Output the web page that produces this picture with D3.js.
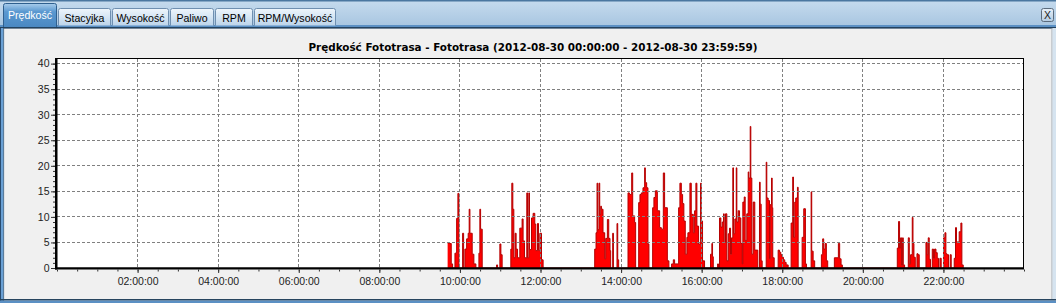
<!DOCTYPE html>
<html><head><meta charset="utf-8">
<script src="https://cdn.jsdelivr.net/npm/d3@7"></script>
<style>html,body{margin:0;padding:0;background:#f0f0f0;overflow:hidden} svg{display:block}</style>
</head><body><svg id="c" width="1056" height="303"></svg>
<script>
// ---------- data ----------
const tabs = ["Prędkość","Stacyjka","Wysokość","Paliwo","RPM","RPM/Wysokość"];
const chartTitle = "Prędkość Fototrasa - Fototrasa (2012-08-30 00:00:00 - 2012-08-30 23:59:59)";
const yTicks = [0,5,10,15,20,25,30,35,40];
const xTickMinutes = [120,240,360,480,600,720,840,960,1080,1200,1320];
const xTickLabels = ["02:00:00","04:00:00","06:00:00","08:00:00","10:00:00","12:00:00","14:00:00","16:00:00","18:00:00","20:00:00","22:00:00"];
// [minutes after midnight, speed] — each value holds until the next sample
const speedSamples = [
[581.7,4.9],[585.1,4.8],[587.1,0.8],[589.1,0],[592.6,2.9],[595.1,9.7],[597.0,14.6],[598.5,0],[604.0,6.8],[605.5,0],[607.4,3.7],[610.0,5.7],[612.3,6.8],[613.8,11.5],[614.9,6.8],[618.3,2.7],[620.8,0.8],[623.8,0],[628.3,2.9],[629.7,11.5],[630.8,7.6],[633.2,0],[654.6,0.6],[656.1,0],[659.5,4.7],[661.0,2.6],[662.9,0],
[675.8,3.7],[677.3,16.6],[678.8,11.5],[680.3,2.0],[682.2,6.8],[683.7,3.7],[685.8,2.0],[689.2,7.8],[692.6,9.6],[694.1,5.3],[696.2,2.0],[699.6,14.7],[700.7,2.0],[702.6,14.7],[703.6,3.6],[706.6,9.8],[709.0,10.7],[711.5,8.6],[713.0,3.4],[715.5,8.7],[717.0,3.4],[719.0,6.8],[721.5,1.6],[723.9,0],
[800.7,3.7],[802.7,6.9],[804.2,16.6],[805.2,7.5],[807.1,16.6],[808.2,10.5],[809.7,12.1],[810.7,11.5],[813.1,6.9],[815.6,1.8],[817.1,5.8],[819.6,9.5],[821.6,5.8],[823.5,3.4],[824.5,0],[827.5,6.8],[828.6,0],[833.9,8.7],[835.0,1.6],[836.4,0],
[850.3,14.7],[852.4,14.4],[855.8,18.6],[857.3,10.2],[860.2,8.9],[861.7,0],[866.2,12.8],[868.1,14.4],[870.2,14.7],[872.6,15.7],[875.1,19.6],[876.1,16.7],[878.1,15.7],[880.0,4.7],[881.5,0],
[887.0,11.8],[888.9,13.8],[891.0,15.1],[894.0,11.2],[897.4,7.9],[899.9,7.6],[902.9,18.6],[904.8,11.8],[908.9,1.4],[911.2,0],[915.2,0.8],[917.8,1.6],[919.7,0.8],[925.7,11.8],[927.6,16.6],[929.7,14.4],[931.6,12.6],[933.5,9.2],[935.6,2.7],[938.0,6.0],[939.5,6.9],[942.5,16.6],[944.5,10.5],[947.5,6.9],[949.5,11.2],[951.4,16.6],[952.9,8.2],[955.4,4.7],[958.4,16.6],[959.4,9.2],[961.3,1.4],[964.3,0],
[973.2,2.7],[975.2,4.8],[976.2,2.2],[977.3,0],[983.7,0.8],[985.1,0],[986.6,9.8],[988.6,8.0],[990.6,9.0],[992.6,10.6],[993.6,5.0],[995.5,10.6],[997.5,1.4],[999.6,6.7],[1001.5,7.8],[1003.0,2.7],[1004.5,5.9],[1006.4,19.6],[1007.4,6.7],[1009.4,9.6],[1011.5,19.6],[1012.4,9.0],[1014.4,11.2],[1016.4,9.8],[1018.3,4.8],[1020.4,0.8],[1021.3,12.9],[1023.4,13.9],[1024.8,5.4],[1027.2,10.6],[1029.3,18.8],[1030.2,17.6],[1032.3,27.7],[1033.2,17.6],[1034.7,2.7],[1036.7,12.9],[1039.1,3.5],[1043.6,0],[1046.1,16.8],[1047.1,12.5],[1048.6,1.4],[1050.1,0],[1056.1,20.7],[1057.0,13.7],[1059.0,13.2],[1061.0,1.8],[1062.0,12.4],[1064.0,17.6],[1065.0,11.8],[1065.9,2.0],[1068.0,0],[1073.9,3.5],[1075.8,3.1],[1077.8,2.6],[1079.9,2.1],[1081.8,1.6],[1083.7,1.1],[1085.8,0.6],[1088.8,0],[1093.2,8.8],[1095.6,17.8],[1096.7,6.0],[1098.6,12.9],[1100.1,13.7],[1102.6,15.8],[1103.7,0],[1109.6,6.0],[1112.0,11.6],[1114.5,0.8],[1116.0,0],[1123.0,14.9],[1123.9,3.3],[1126.0,1.4],[1128.3,0],[1138.3,2.6],[1140.2,5.7],[1141.7,3.7],[1143.8,4.8],[1145.7,1.4],[1147.7,0],[1157.6,2.0],[1163.6,4.8],[1165.5,1.8],[1167.6,0.6],[1169.5,0],
[1251.3,3.9],[1253.2,9.1],[1254.7,3.9],[1256.2,5.9],[1257.7,0.5],[1259.2,5.9],[1260.2,0.6],[1262.2,0],[1267.7,5.9],[1269.2,0.8],[1271.1,2.6],[1273.6,9.9],[1274.7,4.8],[1276.1,2.1],[1278.1,0],[1280.6,2.8],[1282.1,2.6],[1284.0,0],[1294.0,5.0],[1295.9,2.6],[1297.4,5.9],[1298.9,1.7],[1300.8,0],[1303.4,3.7],[1305.3,1.9],[1306.8,3.7],[1308.9,3.0],[1310.8,1.9],[1312.7,0],[1314.8,1.9],[1316.7,0],[1320.2,5.9],[1322.2,6.9],[1323.7,2.8],[1325.2,2.6],[1327.6,0],[1330.1,2.6],[1331.6,0],[1336.1,1.9],[1338.0,7.9],[1339.5,5.1],[1343.5,7.1],[1346.0,8.8],[1347.5,0.6],[1349.5,0]
];

// ---------- layout ----------
const W = 1056, H = 303;
const tabWidths = [54, 53, 57, 44, 38, 82];
const plot = {left: 57, right: 1023.5, top: 58.5, bottom: 268};
const svg = d3.select("#c");
const defs = svg.append("defs");
function grad(id, stops){
  const g = defs.append("linearGradient").attr("id", id).attr("x1",0).attr("y1",0).attr("x2",0).attr("y2",1);
  stops.forEach(s => g.append("stop").attr("offset", s[0]).attr("stop-color", s[1]));
}
grad("strip", [[0,"#c6dbee"],[1,"#a8c6e1"]]);
grad("tabOff", [[0,"#eef5fb"],[0.5,"#d6e6f4"],[1,"#bcd4ea"]]);
grad("tabOn", [[0,"#a9cdec"],[0.35,"#5a98d0"],[1,"#4a88c2"]]);
grad("btn", [[0,"#e8f0f8"],[1,"#b4cce2"]]);

// background
svg.append("rect").attr("width", W).attr("height", H).attr("fill", "#f0f0f0");
// tab strip
svg.append("rect").attr("x",0).attr("y",0).attr("width",W).attr("height",26).attr("fill","url(#strip)");
svg.append("rect").attr("x",0).attr("y",0).attr("width",W).attr("height",1.5).attr("fill","#4b77a0");
svg.append("rect").attr("x",0).attr("y",25).attr("width",W).attr("height",2).attr("fill","#5b90c4");
svg.append("rect").attr("x",0).attr("y",27).attr("width",W).attr("height",1.6).attr("fill","#23425f");

// tabs
const tabFont = "Liberation Sans, Arial, sans-serif";
let tx = 3;
tabs.forEach((name, i) => {
  const w = tabWidths[i];
  const on = i === 0;
  const top = on ? 3.5 : 8.5;
  const bottom = on ? 27 : 25.5;
  svg.append("path")
    .attr("d", `M${tx+0.5},${bottom} L${tx+0.5},${top+2} Q${tx+0.5},${top} ${tx+2.5},${top} L${tx+w-2.5},${top} Q${tx+w-0.5},${top} ${tx+w-0.5},${top+2} L${tx+w-0.5},${bottom}`)
    .attr("fill", on ? "url(#tabOn)" : "url(#tabOff)")
    .attr("stroke", on ? "#2f5f8e" : "#6f8fb0").attr("stroke-width", 1);
  svg.append("text").attr("x", tx + w/2).attr("y", on ? 19 : 21.5)
    .attr("text-anchor","middle").attr("font-family",tabFont)
    .attr("font-size", 10.6).attr("fill", on ? "#ffffff" : "#000000").text(name);
  tx += w + 1;
});
// close button
svg.append("rect").attr("x",1041.5).attr("y",8.5).attr("width",12).attr("height",13).attr("rx",2)
  .attr("fill","url(#btn)").attr("stroke","#5b6b7c");
svg.append("text").attr("x",1047.5).attr("y",19).attr("text-anchor","middle")
  .attr("font-family",tabFont).attr("font-size",10.5).attr("fill","#222").text("X");

// panel frame
svg.append("rect").attr("x",0).attr("y",28).attr("width",1).attr("height",H-28).attr("fill","#2a4c70");
svg.append("rect").attr("x",1).attr("y",28).attr("width",2.2).attr("height",H-28).attr("fill","#6aa0d4");
svg.append("rect").attr("x",3.2).attr("y",28).attr("width",0.9).attr("height",H-28).attr("fill","#3d6488");
svg.append("rect").attr("x",1051.5).attr("y",28).attr("width",1).attr("height",271).attr("fill","#a0a8b0");
svg.append("rect").attr("x",1052.5).attr("y",28).attr("width",3.5).attr("height",271).attr("fill","#d6e4f0");
svg.append("rect").attr("x",0).attr("y",299).attr("width",W).attr("height",1.6).attr("fill","#27455f");
svg.append("rect").attr("x",0).attr("y",300.6).attr("width",W).attr("height",2.4).attr("fill","#5b90c4");

// title
svg.append("text").attr("x", 533).attr("y", 50.5).attr("text-anchor","middle")
  .attr("font-family","DejaVu Sans, sans-serif").attr("font-weight","bold").attr("font-size",10.4)
  .attr("fill","#000").text(chartTitle);

// scales
const x = d3.scaleLinear().domain([0,1440]).range([plot.left, 1024]);
const y = d3.scaleLinear().domain([0,41]).range([plot.bottom, plot.top]);

// plot background
svg.append("rect").attr("x",plot.left).attr("y",plot.top).attr("width",plot.right-plot.left).attr("height",plot.bottom-plot.top)
  .attr("fill","#ffffff");

defs.append("clipPath").attr("id","clip").append("rect")
  .attr("x",plot.left).attr("y",plot.top).attr("width",plot.right-plot.left).attr("height",plot.bottom-plot.top);

// data
const area = d3.area().x(d => x(d[0])).y0(y(0)).y1(d => y(d[1])).curve(d3.curveStepAfter);
const line = d3.line().x(d => x(d[0])).y(d => y(d[1])).curve(d3.curveStepAfter);
const g = svg.append("g").attr("clip-path","url(#clip)");
g.append("path").datum(speedSamples).attr("d", area).attr("fill","#ff0000");
g.append("path").datum(speedSamples).attr("d", line).attr("fill","none").attr("stroke","#b50000").attr("stroke-width",1);

// gridlines
const grid = svg.append("g").attr("stroke","#808080").attr("stroke-width",1).attr("stroke-dasharray","3,2").attr("shape-rendering","crispEdges");
xTickMinutes.forEach(m => grid.append("line").attr("x1",x(m)).attr("x2",x(m)).attr("y1",plot.top).attr("y2",plot.bottom));
yTicks.filter(v => v > 0).forEach(v => grid.append("line").attr("x1",plot.left).attr("x2",plot.right).attr("y1",y(v)).attr("y2",y(v)));

// frame
svg.append("rect").attr("x",plot.left).attr("y",plot.top).attr("width",plot.right-plot.left).attr("height",plot.bottom-plot.top)
  .attr("fill","none").attr("stroke","#000").attr("stroke-width",1);
svg.append("line").attr("x1",56).attr("x2",56).attr("y1",plot.top-0.5).attr("y2",269.5).attr("stroke","#000").attr("stroke-width",2);
svg.append("line").attr("x1",55).attr("x2",plot.right+0.5).attr("y1",268.5).attr("y2",268.5).attr("stroke","#000").attr("stroke-width",2);

// axes
const font = "Liberation Sans, Arial, sans-serif";
const yMinor = svg.append("g").attr("transform","translate(55,0)")
  .call(d3.axisLeft(y).tickValues(d3.range(0,41,1)).tickSize(2).tickFormat(""));
const yAxis = svg.append("g").attr("transform","translate(55,0)")
  .call(d3.axisLeft(y).tickValues(yTicks).tickSize(4).tickPadding(1.5));
const xMinor = svg.append("g").attr("transform","translate(0,269.5)")
  .call(d3.axisBottom(x).tickValues(d3.range(0,1441,30)).tickSize(2).tickFormat(""));
const xAxis = svg.append("g").attr("transform","translate(0,269.5)")
  .call(d3.axisBottom(x).tickValues(xTickMinutes).tickFormat((d,i) => xTickLabels[i]).tickSize(3.5).tickPadding(4.5));
[yMinor,yAxis,xMinor,xAxis].forEach(a => {
  a.select(".domain").remove();
  a.selectAll(".tick line").attr("stroke","#333");
  a.selectAll("text").attr("font-family",font).attr("font-size",10.5).attr("fill","#222");
});
</script></body></html>
